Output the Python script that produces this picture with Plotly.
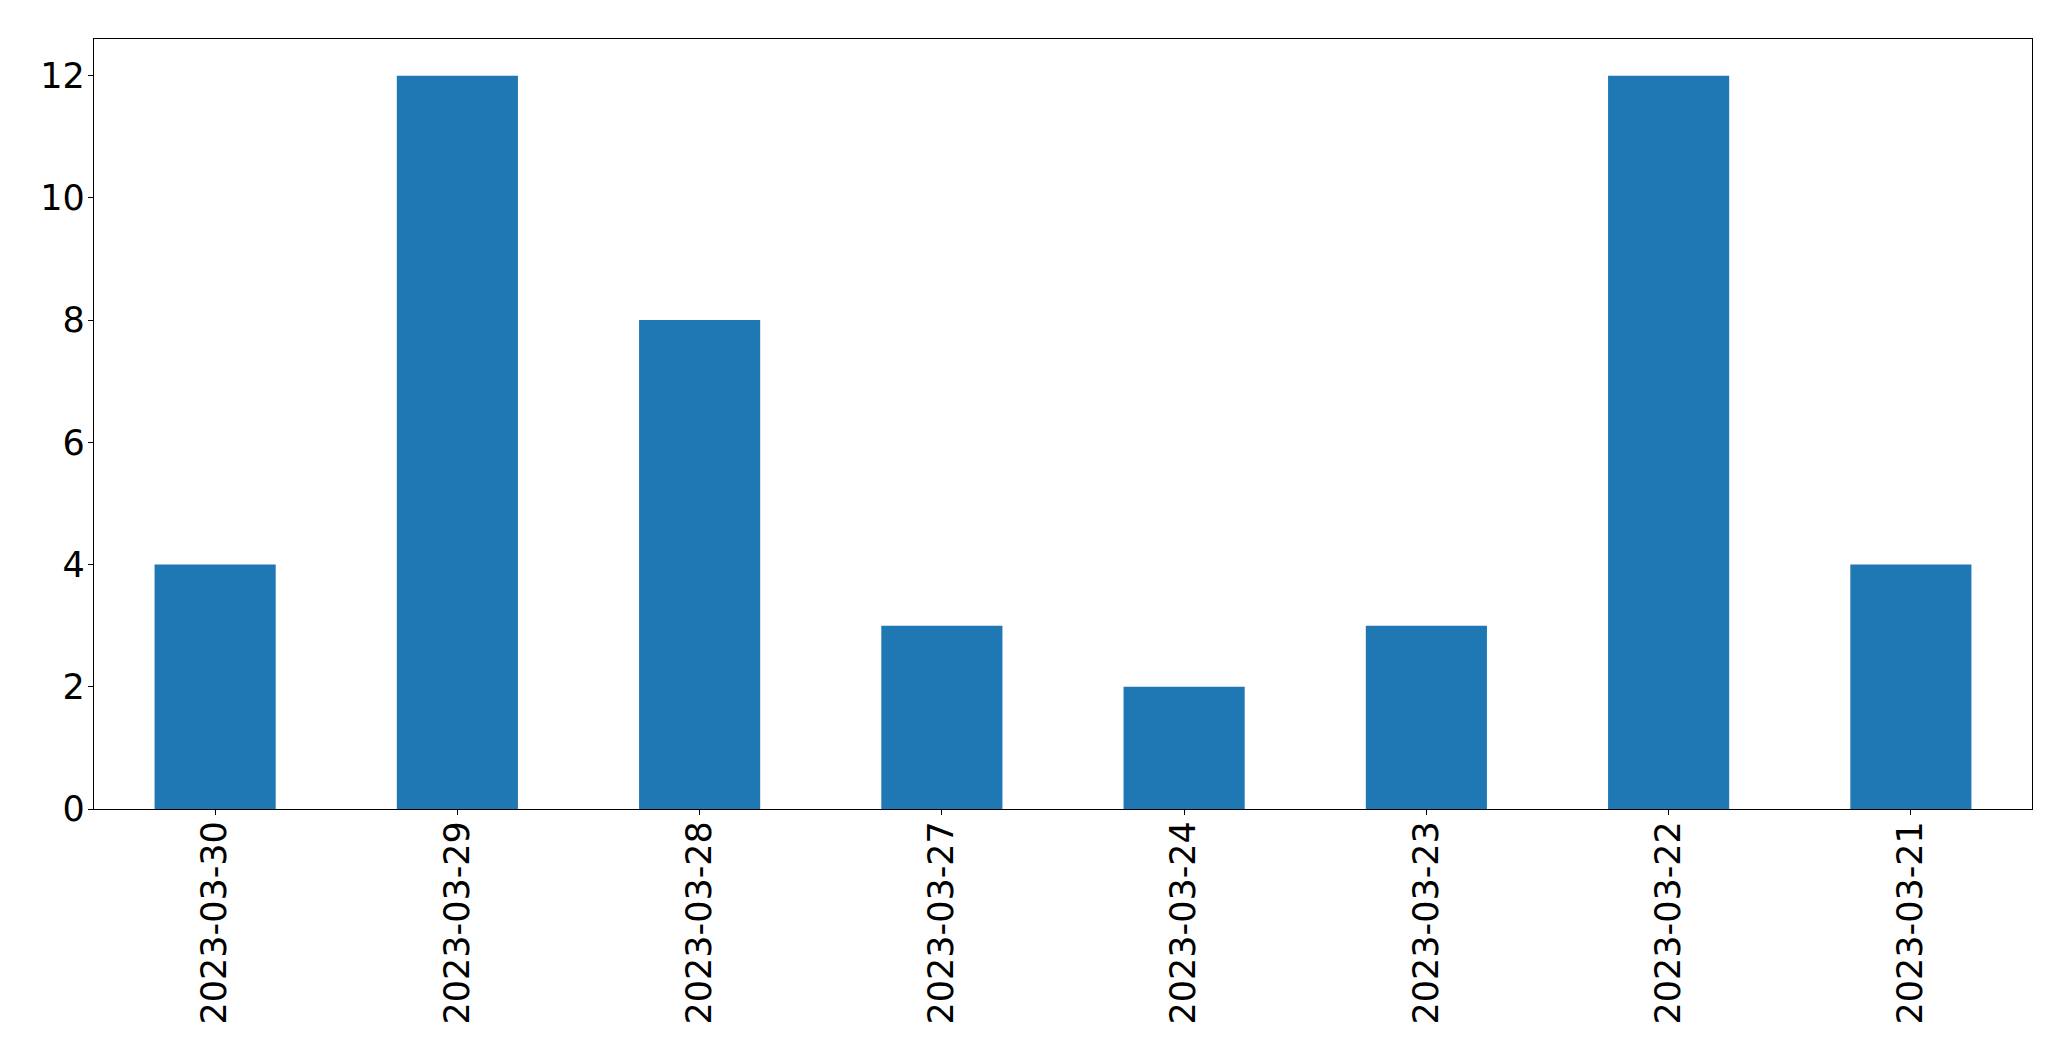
import plotly.graph_objects as go

dates = ["2023-03-30", "2023-03-29", "2023-03-28", "2023-03-27",
         "2023-03-24", "2023-03-23", "2023-03-22", "2023-03-21"]
counts = [4, 12, 8, 3, 2, 3, 12, 4]

fig = go.Figure(go.Bar(x=dates, y=counts, marker_color="#1f77b4",
                       marker_line_width=0, width=0.5))

font = dict(family="DejaVu Sans", size=35, color="black")
fig.update_layout(
    width=2071, height=1061,
    margin=dict(l=94, r=39, t=39, b=252),
    paper_bgcolor="white", plot_bgcolor="white",
    showlegend=False,
    font=font,
)
fig.update_xaxes(type="category", range=[-0.5, 7.5], tickangle=-90,
                 showline=True, linecolor="black", linewidth=1.3, mirror=True,
                 ticks="outside", ticklen=5, tickwidth=1.3, tickcolor="black",
                 showgrid=False, zeroline=False, tickfont=font,
                 ticklabelstandoff=-8)
fig.update_yaxes(range=[0, 12.6], tickvals=[0, 2, 4, 6, 8, 10, 12],
                 showline=True, linecolor="black", linewidth=1.3, mirror=True,
                 ticks="outside", ticklen=5, tickwidth=1.3, tickcolor="black",
                 showgrid=False, zeroline=False, tickfont=font,
                 ticklabelstandoff=-4)

fig.write_html("out.html", config={"displayModeBar": False},
               post_script="document.body.style.margin='0';")
